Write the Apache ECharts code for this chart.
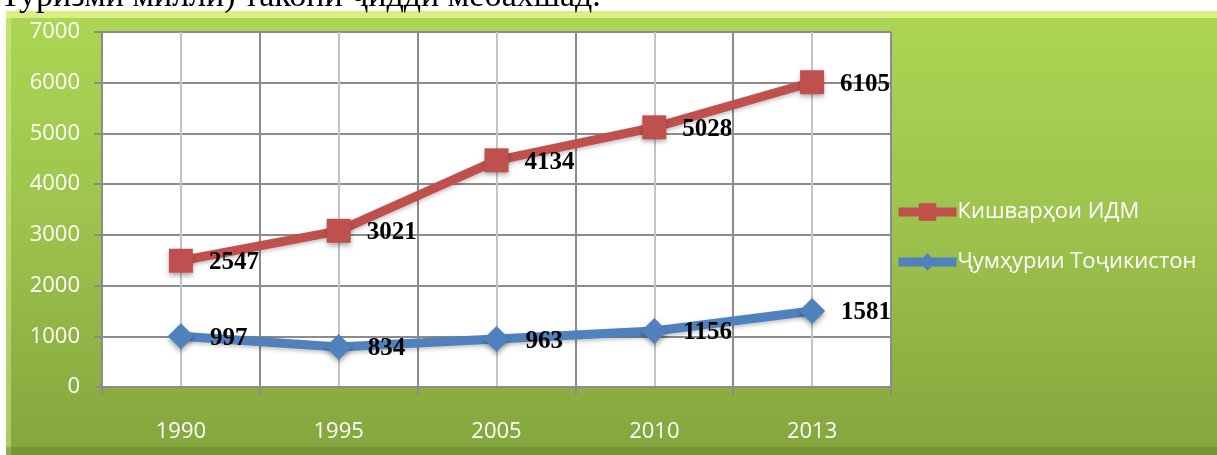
<!DOCTYPE html>
<html>
<head>
<meta charset="utf-8">
<script src="https://cdn.jsdelivr.net/npm/echarts@6/dist/echarts.min.js"></script>
<style>
  html, body { margin: 0; padding: 0; background: #fff; }
  #chart { width: 1217px; height: 455px; }
</style>
</head>
<body>
<div id="chart"></div>
<script>
// categories and series
const years = ['1990', '1995', '2005', '2010', '2013'];
const cisName = 'Кишварҳои ИДМ';
const tjName = 'Ҷумҳурии Тоҷикистон';
// positions as drawn in the picture
const cisValues = [2490, 3080, 4470, 5120, 6010];
const tjValues = [1000, 790, 945, 1105, 1500];
// numbers printed next to the points
const cisLabels = [2547, 3021, 4134, 5028, 6105];
const tjLabels = [997, 834, 963, 1156, 1581];
const yTicks = [0, 1000, 2000, 3000, 4000, 5000, 6000, 7000];

const chart = echarts.init(document.getElementById('chart'), null, { renderer: 'canvas' });

const labelStyle = (texts) => ({
    show: true,
    position: 'right',
    distance: 16,
    offset: [0, 2],
    color: '#000',
    fontFamily: 'Liberation Serif',
    fontWeight: 'bold',
    fontSize: 25,
    formatter: (p) => String(texts[p.dataIndex])
});

const option = {
    backgroundColor: '#fff',
    animation: false,
    graphic: [
        {
            type: 'text', left: 0, top: -20, z: 0,
            style: { text: 'Туризми миллӣ) такони ҷиддӣ мебахшад.', font: '34px "Liberation Serif"', fill: '#000' }
        },
        {
            type: 'rect', z: -10, silent: true,
            shape: { x: 6, y: 11, width: 1211, height: 444 },
            style: {
                fill: {
                    type: 'linear', x: 0, y: 0, x2: 0, y2: 1,
                    colorStops: [
                        { offset: 0, color: '#acd654' },
                        { offset: 0.5, color: '#9cc24c' },
                        { offset: 1, color: '#85a53e' }
                    ]
                }
            }
        },
        {
            type: 'rect', z: -9, silent: true,
            shape: { x: 6, y: 11, width: 1211, height: 7 },
            style: { fill: 'rgba(230,250,150,0.75)' }
        },
        {
            type: 'rect', z: -9, silent: true,
            shape: { x: 6, y: 11, width: 5, height: 444 },
            style: { fill: 'rgba(220,245,150,0.45)' }
        },
        {
            type: 'rect', z: -9, silent: true,
            shape: { x: 6, y: 447, width: 1211, height: 8 },
            style: { fill: 'rgba(90,120,40,0.35)' }
        }
    ],
    grid: {
        left: 102, right: 326, top: 32, bottom: 68,
        show: true, backgroundColor: '#fff', borderWidth: 0
    },
    legend: {
        orient: 'vertical',
        left: 889, top: 196,
        itemWidth: 58, itemHeight: 22, itemGap: 28,
        lineStyle: { width: 9 },
        textStyle: { color: '#fff', fontSize: 22, fontFamily: 'Open Sans', padding: [0, 0, 0, -4] },
        data: [cisName, tjName]
    },
    xAxis: [
        {
            type: 'category',
            data: years,
            boundaryGap: true,
            axisLine: { show: true, lineStyle: { color: '#8c8c8c', width: 2 } },
            axisTick: { show: true, length: 8, lineStyle: { color: '#8c8c8c', width: 2 } },
            axisLabel: { color: '#fff', fontSize: 22, fontFamily: 'Open Sans', margin: 34 },
            splitLine: { show: false }
        },
        {
            type: 'value',
            min: 0, max: 10, interval: 1,
            show: true,
            position: 'bottom',
            axisLine: { show: false },
            axisTick: { show: false },
            axisLabel: { show: false },
            splitLine: { show: true, lineStyle: { color: ['#8c8c8c', '#c4c4c4'], width: 2 } }
        }
    ],
    yAxis: {
        type: 'value',
        min: yTicks[0], max: yTicks[yTicks.length - 1], interval: 1000,
        axisLine: { show: true, lineStyle: { color: '#8c8c8c', width: 2 } },
        axisTick: { show: true, length: 8, lineStyle: { color: '#8c8c8c', width: 2 } },
        axisLabel: { color: '#fff', fontSize: 22, fontFamily: 'Open Sans', margin: 22, formatter: (v) => String(v) },
        splitLine: { show: true, lineStyle: { color: '#8c8c8c', width: 2 } }
    },
    series: [
        {
            name: cisName,
            type: 'line',
            xAxisIndex: 0,
            data: cisValues,
            symbol: 'rect',
            symbolSize: 24,
            color: '#c0504d',
            lineStyle: { width: 9, color: '#c0504d', shadowColor: 'rgba(0,0,0,0.25)', shadowBlur: 4, shadowOffsetY: 2 },
            itemStyle: { color: '#c0504d', shadowColor: 'rgba(0,0,0,0.35)', shadowBlur: 5, shadowOffsetY: 3 },
            label: labelStyle(cisLabels),
            z: 3
        },
        {
            name: tjName,
            type: 'line',
            xAxisIndex: 0,
            data: tjValues,
            symbol: 'diamond',
            symbolSize: 26,
            color: '#4f81bd',
            lineStyle: { width: 9, color: '#4f81bd', shadowColor: 'rgba(0,0,0,0.25)', shadowBlur: 4, shadowOffsetY: 2 },
            itemStyle: { color: '#4f81bd', shadowColor: 'rgba(0,0,0,0.35)', shadowBlur: 5, shadowOffsetY: 3 },
            label: labelStyle(tjLabels),
            z: 3
        }
    ]
};

chart.setOption(option);
</script>
</body>
</html>
